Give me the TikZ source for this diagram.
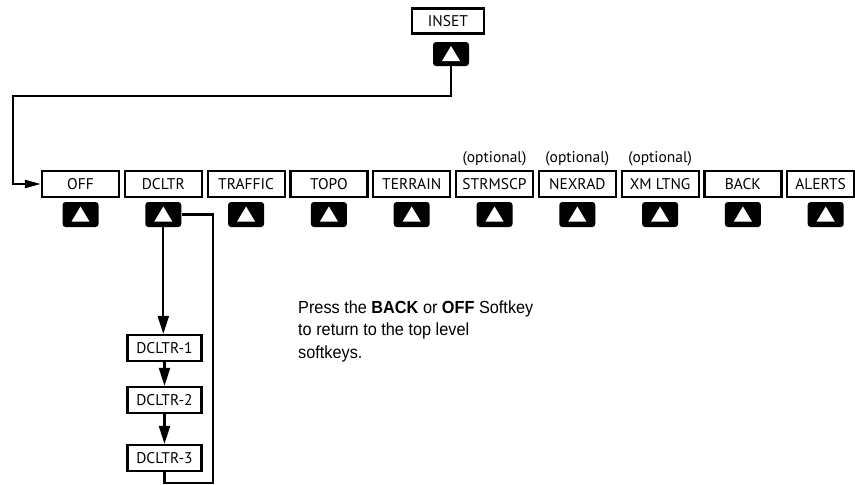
\documentclass[tikz,border=0pt]{standalone}
\usepackage{fontspec}
\setmainfont{Liberation Sans}
\newfontfamily\keyfam{PT Sans}
\newfontfamily\notefam[FakeStretch=0.93]{Liberation Sans}
\usetikzlibrary{arrows.meta,calc}
\begin{document}
\begin{tikzpicture}[x=1pt,y=-1pt,
  keybox/.style={draw, line width=2.2pt, minimum width=77pt, minimum height=26pt, inner sep=0pt, font=\keyfam\fontsize{15.5}{18}\selectfont},
  subbox/.style={keybox, minimum width=74pt},
  btn/.style={fill=black, rounded corners=3pt, minimum width=36pt, minimum height=25pt, inner sep=0pt},
  conn/.style={line width=2.2pt},
  vtip/.style={-{Triangle[length=18pt,width=11pt]}},
  htip/.style={-{Triangle[length=16pt,width=8pt]}},
  opt/.style={font=\keyfam\fontsize{15.5}{18}\selectfont, inner sep=0pt},
  note/.style={anchor=base west, inner sep=0pt, font=\notefam\fontsize{17.5}{22}\selectfont}
]
\useasboundingbox (0,0) rectangle (855,485);
\newcommand{\wtri}[1]{\fill[white] ($(#1.center)+(0,-8)$) -- ($(#1.center)+(-9,7)$) -- ($(#1.center)+(9,7)$) -- cycle;}
% top row keys
\foreach \lab [count=\i from 0] in {OFF,DCLTR,TRAFFIC,TOPO,TERRAIN,STRMSCP,NEXRAD,XM LTNG,BACK}{
  \node[keybox] (k\i) at ({80.5+82.8*\i},184) {\lab};
}
\node[keybox, minimum width=66.8pt] (k9) at (820.6,184) {ALERTS};
\foreach \i in {0,...,9}{
  \node[btn] (b\i) at ({80.5+82.8*\i},214.5) {};
  \wtri{b\i}
}
% optional labels
\node[opt] (o5) at (k5.north |- 0,159) {(optional)};
\node[opt] (o6) at (k6.north |- 0,159) {(optional)};
\node[opt] (o7) at (k7.north |- 0,159) {(optional)};
% inset
\node[keybox, minimum width=72pt, minimum height=25pt] (inset) at (448,21) {INSET};
\node[btn, minimum height=24pt] (bi) at (451,54) {};
\wtri{bi}
\coordinate (c1) at (13,96);
\draw[conn, htip] (bi.south) |- (c1) |- (k0.west);
% DCLTR sub keys
\node[subbox] (d1) at (164.5,348) {DCLTR-1};
\node[subbox] (d2) at (164.5,400) {DCLTR-2};
\node[subbox] (d3) at (164.5,458) {DCLTR-3};
\draw[conn, vtip] (b1.south) -- (b1.south |- d1.north);
\draw[conn, vtip] (d1.south) -- (d2.north);
\draw[conn, vtip] (d2.south) -- (d3.north);
\coordinate (lp) at (213,483);
\draw[conn] (d3.south) |- (lp) |- (b1.east);
% note
\node[note] (n1) at (298,313) {Press the \textbf{BACK} or \textbf{OFF} Softkey};
\node[note] (n2) at (298,335.5) {to return to the top level};
\node[note] (n3) at (298,358) {softkeys.};
\end{tikzpicture}
\end{document}
